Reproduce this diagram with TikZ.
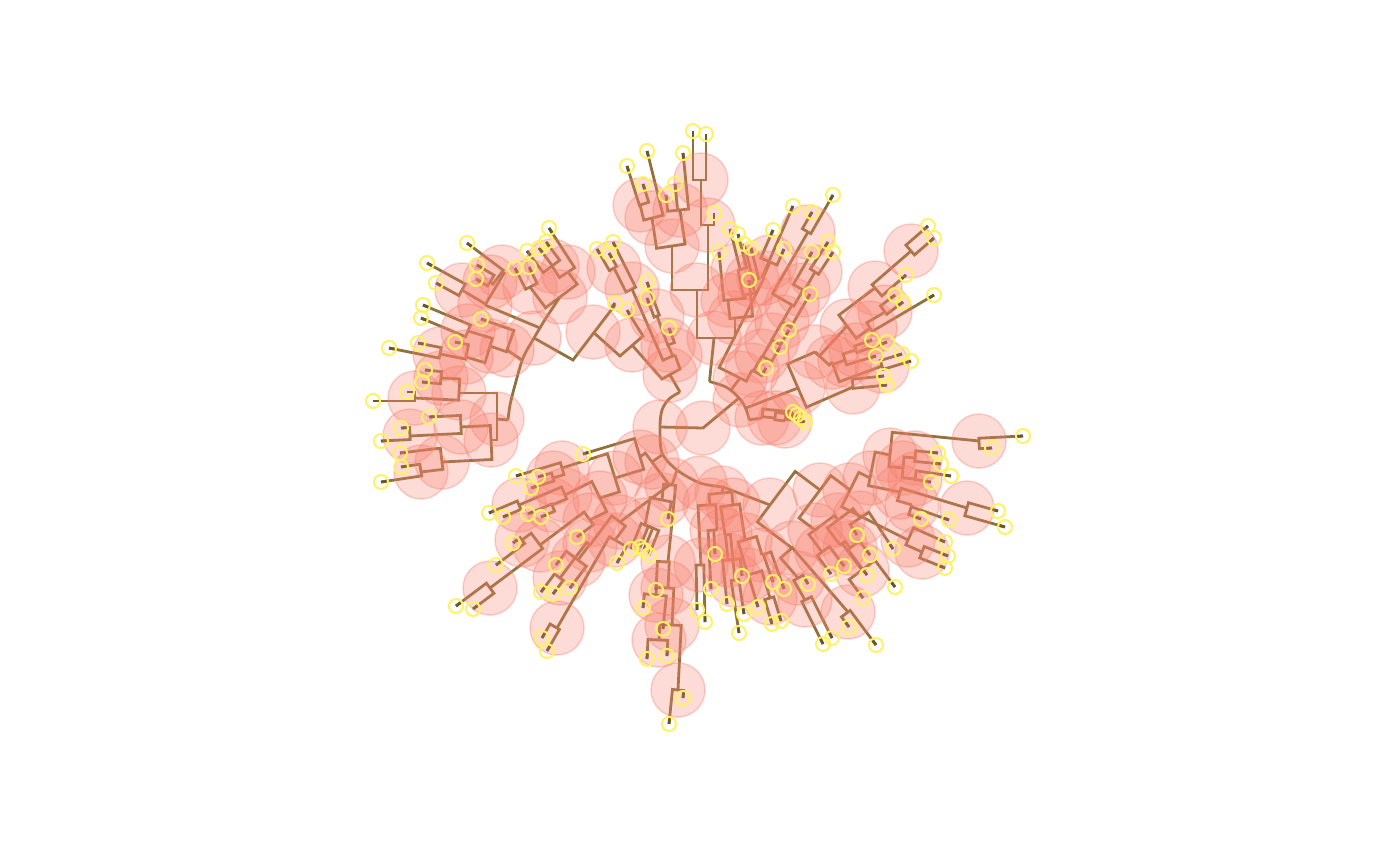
\documentclass[tikz,border=0pt]{standalone}
\usetikzlibrary{calc}
\pgfdeclarelayer{circ}
\pgfdeclarelayer{ontop}
\pgfsetlayers{main,circ,ontop}
\definecolor{brn}{RGB}{146,114,60}
\definecolor{stb}{RGB}{100,88,48}
\definecolor{pk}{RGB}{248,128,110}
\definecolor{ylw}{RGB}{255,242,102}
\tikzset{
  br/.style={draw=brn,line width=2.8pt,line join=miter},
  stubline/.style={draw=stb,line width=2.8pt},
  pinkc/.style={fill=pk,fill opacity=0.27,draw=pk,draw opacity=0.35,line width=1.5pt},
  yc/.style={draw=ylw,line width=2pt}
}
\newcommand\pc[1]{\begin{pgfonlayer}{circ}\path[pinkc] (#1) circle[radius=27pt];\end{pgfonlayer}}
\newcommand\tp[2]{%
  \draw[stubline] (#1) -- ($(#1)!7pt!(#2)$);
  \begin{pgfonlayer}{ontop}\draw[yc] (#1) circle[radius=7pt];\end{pgfonlayer}}
% name, position, dx, dy, tips, internal children
\newcommand\grp[6]{%
  \coordinate (#1) at (#2);
  \coordinate (#1p) at ($(#1)+({-20*(#4)},{20*(#3)})$);
  \pc{#1}
  \if\relax\detokenize{#5}\relax\else
  \foreach \tx/\ty in {#5} {
    \coordinate (tt) at (\tx,\ty);
    \coordinate (pp) at ($(#1)!(tt)!(#1p)$);
    \draw[br] (tt) -- (pp) -- (#1);
    \tp{tt}{pp}
  }\fi
  \if\relax\detokenize{#6}\relax\else
  \foreach \k in {#6} {
    \draw[br] (\k) -- ($(#1)!(\k)!(#1p)$) -- (#1);
  }\fi
}
\begin{document}
\begin{tikzpicture}[x=1pt,y=-1pt]
\fill[white] (0,0) rectangle (1400,865);
\useasboundingbox (0,0) rectangle (1400,865);
% ---- Region A
\grp{a1}{421,472}{-1}{0.15}{401/467,381/482}{}
\grp{a2}{442,462}{-1}{0.12}{400/453}{a1}
\grp{a3}{410,436}{-1}{0.05}{401/428,381/441}{}
\grp{a4}{461,427}{-1}{0.05}{429/417}{a3}
\grp{a5}{491,440}{-1}{0.05}{}{a4,a2}
\grp{a6}{441,378}{-1}{-0.1}{425/370,422/382}{}
\grp{a7}{415,398}{-1}{0}{407/392,373/401}{}
\grp{a8}{459,393}{-1}{-0.05}{}{a6,a7}
\grp{a9}{497,419}{-1}{0}{}{a8,a5}
\grp{a10}{468,331}{-1}{-0.42}{423/305,421/318}{}
\grp{a11}{440,354}{-1}{-0.2}{418/343,389/348}{}
\grp{a12}{466,357}{-1}{-0.2}{455/342}{a11}
\grp{a13}{490,346}{-1}{-0.3}{}{a10,a12}
\grp{a14}{507,350}{-1}{-0.35}{481/319}{a13}
\grp{a15}{462,290}{-1}{-0.55}{427/263,436/283}{}
\grp{a16}{490,282}{-1}{-0.6}{477/265,476/279}{}
\grp{a17}{502,272}{-0.8}{-0.6}{467/243}{a16}
\grp{a18}{485,305}{-1}{-0.6}{}{a17,a15}
\grp{a19}{530,287}{-0.5}{-1}{515/268,529/267}{}
\grp{a20}{552,266}{-0.6}{-0.8}{527/251,539/248,546/242}{}
\grp{a21}{568,272}{-0.55}{-0.85}{549/228}{a20}
\grp{a22}{560,297}{-0.6}{-0.8}{}{a21,a19}
% ---- Region B
\grp{b1}{614,268}{-0.5}{-0.87}{597/249,609/253}{}
\grp{b2}{632,289}{-0.45}{-0.9}{613/242}{b1}
\grp{b3}{657,316}{-0.35}{-0.94}{647/282,647/298}{}
\grp{b4}{668,345}{-0.35}{-0.94}{669/328}{b3}
\grp{b5}{675,355}{-0.4}{-0.92}{}{b2,b4}
% ---- Region C
\grp{c1}{701,180}{0}{-1}{693/131,706/134}{}
\grp{c2}{708,225}{0}{-1}{714/213}{c1}
\grp{c3}{640,205}{-0.3}{-0.95}{627/166,643/184}{}
\grp{c3b}{652,218}{-0.25}{-1}{647/151}{c3}
\grp{c4}{680,210}{-0.1}{-1}{666/195,675/184,683/153}{}
\grp{c5}{672,246}{-0.15}{-1}{}{c3b,c4}
\grp{c6}{697,290}{0}{-1}{}{c5,c2}
\grp{c7a}{738,270}{-0.25}{-1}{730/229,738/234}{}
\grp{c7b}{752,280}{-0.25}{-1}{744/244,751/248}{}
\grp{c7}{745,295}{-0.2}{-1}{}{c7a,c7b}
\grp{c8}{728,300}{-0.1}{-1}{719/252}{c7}
\grp{c9}{735,318}{-0.1}{-1}{749/280}{c8}
\grp{c10}{714,338}{0}{-1}{}{c6,c9}
% ---- Region D
\grp{d1}{770,262}{0.4}{-0.92}{773/230,784/249}{}
\grp{d2}{764,278}{0.4}{-0.92}{793/206}{d1}
\grp{d3}{808,232}{0.5}{-0.87}{833/195,812/212}{}
\grp{d4}{815,272}{0.55}{-0.84}{828/242,833/252}{}
\grp{d5}{803,290}{0.5}{-0.87}{812/252}{d4}
\grp{d6}{792,305}{0.5}{-0.87}{}{d3,d5}
\grp{d7}{782,322}{0.5}{-0.87}{810/294}{d6}
\grp{d8}{772,340}{0.5}{-0.87}{789/330}{d7}
\grp{d9}{762,356}{0.5}{-0.87}{780/347}{d8}
\grp{d10}{752,370}{0.5}{-0.87}{766/368}{d9}
\grp{d11}{740,378}{0.45}{-0.9}{}{d2,d10}
\grp{dr1}{785,421}{1}{0.15}{801/418,805/422}{}
\grp{dr2}{775,418}{1}{0.12}{797/415}{dr1}
\grp{dr3}{762,418}{1}{0.1}{793/412}{dr2}
% ---- Region E
\grp{e1}{911,251}{0.75}{-0.65}{928/226,934/238}{}
\grp{e2}{875,288}{0.75}{-0.65}{906/275}{e1}
\grp{e3}{885,312}{0.8}{-0.6}{895/295,903/302}{}
\grp{e4}{870,328}{0.85}{-0.5}{934/295}{e3}
\grp{e5}{847,326}{0.8}{-0.6}{}{e2,e4}
\grp{e6}{856,350}{1}{-0.35}{872/340,887/342}{}
\grp{e7}{845,360}{1}{-0.3}{876/356}{e6}
\grp{e8}{882,366}{1}{-0.3}{902/354,911/361}{}
\grp{e9}{832,362}{0.95}{-0.35}{}{e7,e8}
\grp{e10}{815,352}{0.67}{-0.73}{}{e5,e9}
\grp{e11}{853,387}{1}{-0.1}{884/376,887/385}{}
\grp{e12}{798,388}{0.92}{-0.4}{}{e10,e11}
% ---- Region F
\grp{f1}{979,441}{1}{-0.05}{1023/436,992/448}{}
\grp{f2}{915,458}{1}{0.1}{938/453,941/464}{}
\grp{f3}{915,479}{1}{0.15}{951/476,931/482}{}
\grp{f4}{903,468}{1}{0.1}{}{f2,f3}
\grp{f5}{890,455}{1}{0.1}{}{f1,f4}
\grp{f6}{967,508}{1}{0.28}{998/511,1005/527}{}
\grp{f7}{912,505}{1}{0.35}{921/519,949/520}{}
\grp{f8}{900,492}{1}{0.3}{}{f6,f7}
\grp{f9}{922,552}{1}{0.4}{948/556,945/568}{}
\grp{f10}{908,540}{1}{0.45}{945/542}{f9}
\grp{f11}{870,478}{1}{0.2}{}{f5,f8}
\grp{f12}{850,490}{0.9}{0.45}{}{f11,f10}
\grp{f13}{860,518}{0.55}{0.84}{857/535,893/549}{}
\grp{f14}{850,548}{0.6}{0.8}{870/555,867/575}{}
\grp{f15}{862,570}{0.6}{0.8}{895/587,863/598}{}
\grp{f16}{822,552}{0.6}{0.8}{844/566,831/574}{}
\grp{f17}{840,545}{0.6}{0.8}{}{f14,f15}
\grp{f18}{838,520}{0.6}{0.8}{}{f17,f13}
\grp{f19}{815,530}{0.6}{0.8}{}{f18,f16}
\grp{f20}{805,600}{0.45}{0.9}{823/644,832/638}{}
\grp{f21}{798,578}{0.5}{0.87}{808/584}{f20}
\grp{f22}{848,612}{0.6}{0.8}{849/627,876/645}{}
\grp{f23}{792,548}{0.65}{0.75}{}{f22,f21}
\grp{f24}{820,490}{0.8}{0.6}{}{f12,f19}
\grp{f25}{770,505}{0.8}{0.6}{}{f24,f23}
% ---- Region G
\grp{g1}{701,565}{0.02}{1}{697/610,705/622}{}
\grp{g2}{717,530}{0.05}{1}{715/554,711/589}{}
\grp{g3}{710,505}{0.05}{1}{}{g1,g2}
\grp{g4}{728,560}{0.1}{1}{742/576,727/604}{}
\grp{g5}{735,580}{0.15}{1}{744/614,739/633}{}
\grp{g6}{725,535}{0.1}{1}{}{g4,g5}
\grp{g7}{770,598}{0.3}{1}{772/624,781/621}{}
\grp{g8}{762,555}{0.35}{1}{773/582,784/589}{}
\grp{g9}{748,575}{0.3}{1}{758/607}{g7}
\grp{g10}{745,540}{0.3}{1}{}{g8,g9}
\grp{g11}{733,505}{0.15}{1}{}{g6,g10}
\grp{g12}{722,493}{0.1}{1}{}{g3,g11}
\grp{g13}{678,690}{-0.1}{1}{683/698,669/724}{}
\grp{g14}{659,640}{-0.05}{1}{667/656,647/659}{}
\grp{g15}{672,625}{-0.05}{1}{}{g14,g13}
\grp{g16}{656,595}{-0.1}{1}{663/629,643/608}{}
\grp{g17}{668,588}{-0.05}{1}{}{g16,g15}
\grp{g18}{668,562}{-0.05}{1}{656/590}{g17}
\grp{g19}{645,525}{-0.37}{0.93}{631/549,640/547,644/550,649/555}{}
\grp{g20}{662,500}{-0.2}{1}{668/519}{g19}
\grp{g21}{672,485}{-0.1}{1}{}{g20,g18}
% ---- Region H
\grp{h1}{553,478}{-1}{0.3}{538/477,531/488}{}
\grp{h2}{562,468}{-1}{0.3}{516/476}{h1}
\grp{h3}{519,505}{-0.92}{0.39}{489/513,503/517}{}
\grp{h4}{552,505}{-0.92}{0.39}{528/514,541/517}{}
\grp{h5}{565,495}{-0.92}{0.39}{}{h3,h4}
\grp{h6}{522,540}{-0.8}{0.6}{513/543,496/565}{}
\grp{h17}{490,588}{-0.8}{0.6}{456/606,473/609}{}
\grp{h6b}{540,545}{-0.8}{0.6}{}{h6,h17}
\grp{h7}{590,520}{-0.8}{0.6}{577/537}{h6b}
\grp{h8}{600,498}{-0.9}{0.45}{}{h5,h7}
\grp{h9}{615,478}{-0.95}{0.3}{}{h2,h8}
\grp{h10}{640,457}{-1}{0.3}{583/454}{h9}
\grp{h11}{560,578}{-0.6}{0.8}{541/592,553/594}{}
\grp{h12}{578,560}{-0.6}{0.8}{556/565,570/588}{}
\grp{h13}{590,545}{-0.6}{0.8}{}{h11,h12}
\grp{h14}{557,628}{-0.5}{0.87}{542/638,547/651}{}
\grp{h15}{615,540}{-0.5}{0.87}{617/563}{h14}
\grp{h16}{620,522}{-0.6}{0.8}{}{h13,h15}
\grp{h19}{652,462}{-0.8}{0.6}{}{h10,h16}
% ---- backbone
\coordinate (root) at (660,427);
\coordinate (rn) at (703,428);
\coordinate (fanA) at (534,338);
\coordinate (ab1) at (593,332);
\coordinate (ab2) at (632,345);
\coordinate (ab3) at (670,375);
\coordinate (low) at (723,487);
\draw[br] plot[smooth] coordinates {(680,392) (669,399) (662,410) (660,427) (662,453) (677,470) (700,483) (723,487)};
\draw[br] (root) -- (rn) -- (739,398);
\draw[br] plot[smooth] coordinates {(709.5,381.5) (726.5,387.3) (739,397.8) (745.6,408.1) (749.3,419.8)};
\draw[br] plot[smooth] coordinates {(560,297) (546,318) (534,338) (523,358) (515,385) (510,405) (508,420)};
\draw[br] (fanA) -- (573,360) -- (615,305);
\draw[br] (ab1) -- (620,356) -- (643,336) -- (628,312);
\draw[br] (ab2) -- (662,379) -- (680,369) -- (b5);
\draw[br] (ab3) -- (680,392);
\coordinate (m1) at (615,303);
\coordinate (m2) at (627,310);
\tp{m1}{573,360}
\tp{m2}{643,336}
\draw[br] (540,328) -- (a18);
\draw[br] (522,360) -- (a14);
\draw[br] (508,420) -- (a9);
\draw[br] (709.5,381.5) -- (c10);
\draw[br] (731,390) -- (d11);
\draw[br] (745.6,408.1) -- (e12);
\draw[br] (749.3,419.8) -- (dr3);
\draw[br] (low) -- (f25);
\draw[br] (low) -- (g12);
\draw[br] (677,470) -- (g21);
\draw[br] (662,455) -- (h19);
\pc{root}\pc{rn}\pc{fanA}\pc{ab1}\pc{ab2}\pc{ab3}\pc{740,400}\pc{700,483}
\end{tikzpicture}
\end{document}
